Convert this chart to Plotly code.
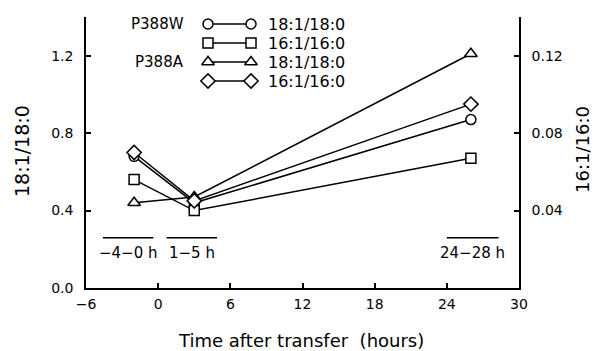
import plotly.graph_objects as go

# ---- data ----
time_h = [-2, 3, 26]
p388w_18 = [0.68, 0.44, 0.87]     # 18:1/18:0 (left axis)
p388w_16 = [0.056, 0.040, 0.067]  # 16:1/16:0 (right axis)
p388a_18 = [0.44, 0.47, 1.21]     # 18:1/18:0 (left axis)
p388a_16 = [0.070, 0.045, 0.095]  # 16:1/16:0 (right axis)

x_ticks = [-6, 0, 6, 12, 18, 24, 30]
y_left_ticks = [0.0, 0.4, 0.8, 1.2]
y_right_ticks = [0.04, 0.08, 0.12]

periods = [("−4−0 h", -4.6, -0.4), ("1−5 h", 0.7, 4.9), ("24−28 h", 24.0, 28.3)]

FONT = "DejaVu Sans"
BLACK = "black"
OFF = 8  # default page body margin
FIG_W, FIG_H = 600 - OFF, 351 - OFF
L, R, T, B = 86, 519, 17, 288  # plot-area pixel box in page coords
W, H = R - L, B - T

def px_x(p):
    return (p - L) / W

def px_y(p):
    return (B - p) / H

fig = go.Figure()

def add_series(y, symbol, yaxis, size):
    fig.add_trace(go.Scatter(
        x=time_h, y=y, mode="lines+markers", yaxis=yaxis, showlegend=False,
        line=dict(color=BLACK, width=1.5),
        marker=dict(symbol=symbol, size=size, color="white",
                    line=dict(color=BLACK, width=1.5)),
        cliponaxis=False,
    ))

add_series(p388w_16, "square", "y2", 10)
add_series(p388a_18, "triangle-up", "y", 11)
add_series(p388w_18, "circle", "y", 10)
add_series(p388a_16, "diamond", "y2", 11)

# ---- custom legend on pixel-like overlay axes ----
legend_rows = [
    ("P388W", "circle", "18:1/18:0", 24, 10),
    ("", "square", "16:1/16:0", 43, 10),
    ("P388A", "triangle-up", "18:1/18:0", 62, 11),
    ("", "diamond", "16:1/16:0", 81, 11),
]
for grp, sym, lab, py, sz in legend_rows:
    fig.add_trace(go.Scatter(
        x=[208, 251], y=[py, py], xaxis="x3", yaxis="y3", mode="lines+markers",
        showlegend=False, hoverinfo="skip", cliponaxis=False,
        line=dict(color=BLACK, width=1.5),
        marker=dict(symbol=sym, size=sz, color="white", line=dict(color=BLACK, width=1.5)),
    ))
    if grp:
        fig.add_annotation(x=186, y=py, xref="x3", yref="y3", text=grp, showarrow=False,
                           xanchor="right", yanchor="middle",
                           font=dict(family=FONT, size=15, color=BLACK))
    fig.add_annotation(x=266, y=py, xref="x3", yref="y3", text=lab, showarrow=False,
                       xanchor="left", yanchor="middle",
                       font=dict(family=FONT, size=16, color=BLACK))

# ---- sampling-period bars ----
for txt, x0, x1 in periods:
    fig.add_shape(type="line", x0=x0, x1=x1, y0=0.26, y1=0.26, xref="x", yref="y",
                  line=dict(color=BLACK, width=1.5))
    fig.add_annotation(x=(x0 + x1) / 2, y=0.18, xref="x", yref="y", text=txt,
                       showarrow=False, xanchor="center", yanchor="middle",
                       font=dict(family=FONT, size=15, color=BLACK))

# ---- axis titles ----
fig.add_annotation(x=px_x(301), y=px_y(340), xref="paper", yref="paper",
                   text="Time after transfer  (hours)", showarrow=False,
                   xanchor="center", yanchor="middle",
                   font=dict(family=FONT, size=18, color=BLACK))
fig.add_annotation(x=px_x(22), y=px_y(151), xref="paper", yref="paper",
                   text="18:1/18:0", textangle=-90, showarrow=False,
                   xanchor="center", yanchor="middle",
                   font=dict(family=FONT, size=19, color=BLACK))
fig.add_annotation(x=px_x(582), y=px_y(150), xref="paper", yref="paper",
                   text="16:1/16:0", textangle=-90, showarrow=False,
                   xanchor="center", yanchor="middle",
                   font=dict(family=FONT, size=18, color=BLACK))

axis_common = dict(showgrid=False, zeroline=False, showline=True, linecolor=BLACK,
                   linewidth=1.5, ticks="inside", ticklen=5, tickcolor=BLACK, tickwidth=1.5,
                   automargin=False,
                   tickfont=dict(family=FONT, size=14, color=BLACK))

fig.update_layout(
    width=FIG_W, height=FIG_H,
    margin=dict(l=L - OFF, r=FIG_W - (R - OFF), t=T - OFF, b=FIG_H - (B - OFF)),
    paper_bgcolor="white", plot_bgcolor="white",
    xaxis=dict(range=[-6, 30], tickvals=x_ticks, ticktext=[str(v).replace("-", "−") for v in x_ticks],
               ticklabelstandoff=2, **axis_common),
    yaxis=dict(range=[0, 1.4], tickvals=y_left_ticks, tickformat=".1f",
               ticklabelstandoff=8, **axis_common),
    yaxis2=dict(range=[0, 0.14], tickvals=y_right_ticks, tickformat=".2f",
                overlaying="y", side="right", ticklabelstandoff=8, **axis_common),
    xaxis3=dict(range=[L, R], overlaying="x", visible=False, anchor="y3"),
    yaxis3=dict(range=[B, T], overlaying="y", visible=False, anchor="x3"),
)

fig.write_html("out.html")
